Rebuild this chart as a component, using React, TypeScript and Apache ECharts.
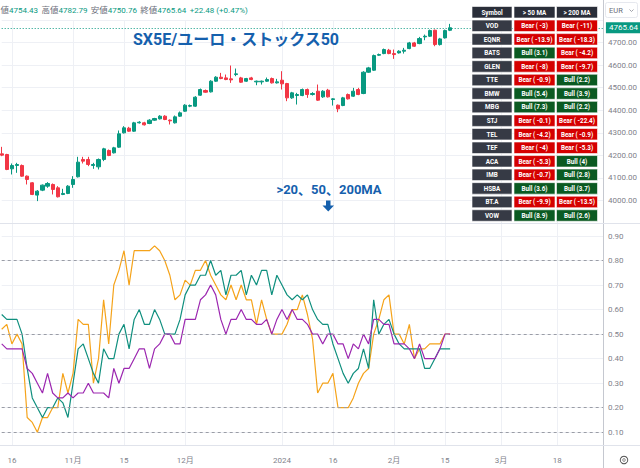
import React, { useEffect, useRef } from 'react';
import * as echarts from 'echarts';

// ---------- categories (trading days) ----------
const START_DATE = [2023, 9, 12]; // 2023-10-12
const HOLIDAYS = ['2023-12-25', '2023-12-26', '2024-01-01'];
const N_CATS = 119;

const TICK_LABELS: [string, string][] = [
  ['2023-10-16', '16'],
  ['2023-11-01', '11月'],
  ['2023-11-15', '15'],
  ['2023-12-01', '12月'],
  ['2024-01-02', '2024'],
  ['2024-01-16', '16'],
  ['2024-02-01', '2月'],
  ['2024-02-15', '15'],
  ['2024-03-01', '3月'],
  ['2024-03-18', '18'],
];

// ---------- candles [open, close, low, high] ----------
const candles: number[][] = [
  [4206.7, 4200.8, 4196.3, 4237.7],
  [4203.7, 4137.3, 4134.3, 4206.7],
  [4140.2, 4155.0, 4115.1, 4163.9],
  [4155.0, 4159.4, 4122.5, 4166.8],
  [4155.0, 4107.7, 4104.8, 4159.4],
  [4107.7, 4093.0, 4070.8, 4110.7],
  [4078.2, 4026.5, 4023.6, 4081.2],
  [4023.6, 4041.3, 3997.0, 4045.7],
  [4045.7, 4067.8, 4041.3, 4070.8],
  [4063.4, 4075.2, 4056.0, 4081.2],
  [4070.8, 4048.6, 4026.5, 4075.2],
  [4056.0, 4016.2, 4013.2, 4063.4],
  [4026.5, 4031.0, 4023.6, 4051.6],
  [4031.0, 4063.4, 4028.0, 4067.8],
  [4070.8, 4093.0, 4056.0, 4107.7],
  [4104.8, 4169.8, 4101.8, 4193.4],
  [4181.6, 4174.2, 4163.9, 4193.4],
  [4181.6, 4159.4, 4152.0, 4193.4],
  [4155.0, 4159.4, 4140.2, 4166.8],
  [4149.1, 4181.6, 4137.3, 4186.0],
  [4181.6, 4228.8, 4174.2, 4233.3],
  [4221.5, 4199.3, 4196.3, 4225.9],
  [4211.1, 4233.3, 4208.2, 4237.7],
  [4236.2, 4295.3, 4233.3, 4310.1],
  [4299.7, 4321.9, 4296.8, 4329.3],
  [4320.4, 4307.1, 4304.2, 4326.3],
  [4307.1, 4344.1, 4304.2, 4348.5],
  [4344.1, 4347.0, 4341.1, 4351.4],
  [4344.1, 4335.2, 4332.2, 4348.5],
  [4341.1, 4355.9, 4338.2, 4360.3],
  [4355.9, 4363.3, 4352.9, 4366.2],
  [4361.8, 4373.6, 4358.8, 4378.0],
  [4373.6, 4358.8, 4355.9, 4378.0],
  [4355.9, 4352.9, 4336.7, 4358.8],
  [4344.1, 4370.6, 4341.1, 4376.6],
  [4373.6, 4388.4, 4370.6, 4394.3],
  [4395.7, 4422.3, 4392.8, 4426.8],
  [4417.9, 4420.9, 4413.5, 4425.3],
  [4417.9, 4457.8, 4415.0, 4462.2],
  [4466.6, 4491.8, 4463.7, 4496.2],
  [4487.3, 4479.9, 4477.0, 4491.8],
  [4481.4, 4528.7, 4478.5, 4533.1],
  [4528.7, 4546.4, 4525.7, 4550.8],
  [4546.4, 4540.5, 4537.5, 4565.6],
  [4543.4, 4536.0, 4533.1, 4558.2],
  [4539.0, 4534.6, 4521.3, 4598.1],
  [4558.2, 4561.2, 4550.8, 4584.8],
  [4543.4, 4524.2, 4521.3, 4547.9],
  [4528.7, 4540.5, 4525.7, 4543.4],
  [4543.4, 4536.0, 4533.1, 4547.9],
  [4525.7, 4528.7, 4510.9, 4531.6],
  [4525.7, 4528.7, 4513.9, 4531.6],
  [4528.7, 4536.0, 4525.7, 4544.9],
  [4540.5, 4521.3, 4518.3, 4544.9],
  [4521.3, 4525.7, 4518.3, 4539.0],
  [4533.1, 4516.9, 4491.8, 4573.0],
  [4518.3, 4454.8, 4440.1, 4521.3],
  [4454.8, 4477.0, 4450.4, 4481.4],
  [4465.2, 4469.6, 4425.3, 4477.0],
  [4465.1, 4491.7, 4462.2, 4496.2],
  [4491.7, 4469.6, 4454.8, 4496.2],
  [4469.6, 4474.0, 4465.1, 4479.9],
  [4484.3, 4444.5, 4441.5, 4513.9],
  [4459.2, 4484.3, 4454.8, 4488.8],
  [4488.8, 4459.2, 4456.3, 4494.7],
  [4447.4, 4450.4, 4420.8, 4453.3],
  [4422.3, 4406.1, 4391.3, 4425.3],
  [4420.8, 4454.8, 4417.9, 4459.2],
  [4469.6, 4450.4, 4447.4, 4474.0],
  [4462.2, 4484.3, 4459.2, 4499.1],
  [4491.7, 4469.6, 4466.6, 4499.1],
  [4474.0, 4568.5, 4471.1, 4573.0],
  [4568.5, 4587.7, 4565.6, 4592.2],
  [4577.4, 4642.4, 4574.4, 4646.8],
  [4643.9, 4646.8, 4640.9, 4651.2],
  [4651.2, 4669.0, 4648.3, 4673.4],
  [4666.0, 4651.2, 4648.3, 4671.9],
  [4651.2, 4646.8, 4627.6, 4669.0],
  [4654.2, 4661.6, 4651.2, 4666.0],
  [4661.6, 4666.0, 4651.2, 4676.4],
  [4673.4, 4698.5, 4670.4, 4702.9],
  [4698.5, 4683.7, 4680.8, 4702.9],
  [4695.6, 4717.7, 4692.6, 4725.1],
  [4725.1, 4728.1, 4710.3, 4735.4],
  [4728.1, 4753.2, 4725.1, 4757.6],
  [4754.6, 4691.1, 4683.7, 4757.6],
  [4691.1, 4716.2, 4686.7, 4720.7],
  [4720.7, 4753.2, 4717.7, 4757.6],
  [4754.43, 4765.64, 4750.76, 4782.79],
];

const LAST_CLOSE = 4765.64;
const HEADER = { open: '4754.43', high: '4782.79', low: '4750.76', close: '4765.64', chg: '+22.48 (+0.47%)' };

// ---------- breadth: share of stocks above MA ----------
const above20 = [
  0.52, 0.54, 0.46, 0.50, 0.46, 0.16, 0.14, 0.10, 0.16, 0.16,
  0.20, 0.20, 0.34, 0.26, 0.34, 0.56, 0.54, 0.54, 0.30, 0.40,
  0.64, 0.46, 0.70, 0.76, 0.84, 0.70, 0.84, 0.84, 0.84, 0.84,
  0.86, 0.84, 0.80, 0.74, 0.64, 0.66, 0.72, 0.70, 0.76, 0.76,
  0.80, 0.74, 0.70, 0.66, 0.64, 0.70, 0.64, 0.70, 0.64, 0.64,
  0.54, 0.64, 0.56, 0.50, 0.50, 0.50, 0.54, 0.60, 0.60, 0.66,
  0.58, 0.48, 0.26, 0.30, 0.30, 0.34, 0.20, 0.20, 0.20, 0.24,
  0.30, 0.34, 0.36, 0.50, 0.56, 0.64, 0.66, 0.50, 0.50, 0.46,
  0.54, 0.40, 0.44, 0.44, 0.46, 0.46, 0.46, 0.50, 0.50,
];
const above50 = [
  0.58, 0.56, 0.56, 0.56, 0.50, 0.36, 0.24, 0.20, 0.16, 0.20,
  0.20, 0.24, 0.22, 0.16, 0.30, 0.44, 0.46, 0.40, 0.34, 0.30,
  0.44, 0.40, 0.40, 0.50, 0.54, 0.44, 0.56, 0.60, 0.54, 0.54,
  0.60, 0.56, 0.50, 0.50, 0.50, 0.56, 0.66, 0.70, 0.70, 0.74,
  0.74, 0.80, 0.74, 0.76, 0.66, 0.74, 0.74, 0.76, 0.66, 0.74,
  0.70, 0.76, 0.76, 0.66, 0.74, 0.70, 0.66, 0.64, 0.66, 0.64,
  0.66, 0.60, 0.56, 0.54, 0.54, 0.46, 0.40, 0.34, 0.30, 0.34,
  0.36, 0.44, 0.36, 0.64, 0.50, 0.54, 0.56, 0.50, 0.46, 0.44,
  0.44, 0.44, 0.44, 0.36, 0.36, 0.40, 0.44, 0.44, 0.44,
];
const above200 = [
  0.46, 0.44, 0.44, 0.44, 0.44, 0.36, 0.34, 0.30, 0.26, 0.34,
  0.26, 0.24, 0.24, 0.26, 0.24, 0.26, 0.26, 0.30, 0.26, 0.26,
  0.26, 0.24, 0.36, 0.30, 0.36, 0.36, 0.40, 0.44, 0.44, 0.36,
  0.44, 0.46, 0.50, 0.50, 0.46, 0.46, 0.56, 0.56, 0.56, 0.64,
  0.66, 0.70, 0.66, 0.56, 0.50, 0.56, 0.56, 0.60, 0.56, 0.56,
  0.54, 0.54, 0.56, 0.50, 0.56, 0.60, 0.56, 0.60, 0.56, 0.56,
  0.54, 0.50, 0.50, 0.46, 0.50, 0.50, 0.46, 0.46, 0.40, 0.46,
  0.44, 0.50, 0.46, 0.56, 0.56, 0.54, 0.54, 0.46, 0.46, 0.46,
  0.44, 0.40, 0.46, 0.40, 0.40, 0.40, 0.44, 0.50, 0.50,
];
const LEVELS = [0.8, 0.5, 0.2, 0.1];

// ---------- table ----------
const tableSymbols = ['VOD', 'EQNR', 'BATS', 'GLEN', 'TTE', 'BMW', 'MBG', 'STJ', 'TEL', 'TEF', 'ACA', 'IMB', 'HSBA', 'BT.A', 'VOW'];
const vs50 = [-3, -13.9, 3.1, -8, -0.9, 5.4, 7.3, -0.1, -4.2, -4, -5.3, -0.7, 3.6, -9.9, 8.9];
const vs200 = [-11, -18.3, -4.2, -9.7, 2.2, 3.9, 2.2, -22.4, -0.9, -5.3, 4, 2.8, 3.7, -13.5, 2.6];
const tableHeader = ['Symbol', '> 50 MA', '> 200 MA'];

const UP = '#089981';
const DOWN = '#F23645';
const FONT = "Roboto, 'Noto Sans CJK JP', sans-serif";

function buildDates(): string[] {
  const out: string[] = [];
  let t = Date.UTC(START_DATE[0], START_DATE[1], START_DATE[2]);
  while (out.length < N_CATS) {
    const d = new Date(t);
    const wd = d.getUTCDay();
    const s = d.toISOString().slice(0, 10);
    if (wd !== 0 && wd !== 6 && HOLIDAYS.indexOf(s) < 0) out.push(s);
    t += 86400000;
  }
  return out;
}

function cellText(v: number) {
  return v > 0 ? `Bull (${v})` : `Bear ( ${v})`;
}

function buildTable(): any[] {
  const xs = [472, 514, 556.5];
  const ws = [40, 41, 41];
  const top0 = 6.5;
  const pitch = 13.55;
  const h = 11.5;
  const els: any[] = [];
  const cell = (col: number, row: number, fill: string, text: string) => {
    const y = top0 + row * pitch;
    els.push({
      type: 'rect',
      shape: { x: xs[col], y, width: ws[col], height: h },
      style: { fill, stroke: '#ffffff', lineWidth: 0.6 },
      z: 100,
    });
    els.push({
      type: 'text',
      x: xs[col] + ws[col] / 2,
      y: y + h / 2 + 0.3,
      style: {
        text,
        fill: '#ffffff',
        font: `bold 6.3px ${FONT}`,
        textAlign: 'center',
        textVerticalAlign: 'middle',
      },
      z: 101,
    });
  };
  tableHeader.forEach((t, c) => cell(c, 0, '#2a2e39', t));
  tableSymbols.forEach((s, i) => {
    cell(0, i + 1, '#363a45', s);
    cell(1, i + 1, vs50[i] > 0 ? '#0b5a22' : '#d50000', cellText(vs50[i]));
    cell(2, i + 1, vs200[i] > 0 ? '#0b5a22' : '#d50000', cellText(vs200[i]));
  });
  return els;
}

function buildOption() {
  const dates = buildDates();
  const tickMap: Record<string, string> = {};
  TICK_LABELS.forEach(([d, l]) => (tickMap[d] = l));
  const isTick = (_i: number, v: string) => tickMap[v] !== undefined;
  const gridColor = '#eef0f5';

  const splitX = { show: true, interval: isTick, lineStyle: { color: gridColor, width: 1 } };

  return {
    animation: false,
    backgroundColor: '#ffffff',
    grid: [
      { left: 1.7, right: 37, top: 20, height: 203 },
      { left: 1.7, right: 37, top: 223, height: 222 },
    ],
    xAxis: [
      {
        type: 'category', gridIndex: 0, data: dates, boundaryGap: false,
        axisLine: { show: false }, axisTick: { show: false }, axisLabel: { show: false },
        splitLine: splitX,
      },
      {
        type: 'category', gridIndex: 1, data: dates, boundaryGap: false,
        axisLine: { show: true, lineStyle: { color: '#e0e3eb' } },
        axisTick: { show: false },
        axisLabel: {
          interval: isTick,
          formatter: (v: string) => tickMap[v] || '',
          color: '#7f828b', fontSize: 8, margin: 11, fontFamily: FONT,
        },
        splitLine: splitX,
      },
    ],
    yAxis: [
      {
        type: 'value', gridIndex: 0, position: 'right', min: 3900, max: 4800, interval: 100,
        axisLine: { show: false }, axisTick: { show: false },
        axisLabel: {
          formatter: (v: number) => v.toFixed(2), color: '#7f828b', fontSize: 8, margin: 5,
          showMinLabel: false, showMaxLabel: false, fontFamily: FONT,
        },
        splitLine: { lineStyle: { color: gridColor } },
      },
      {
        type: 'value', gridIndex: 1, position: 'right', min: 0.048, max: 0.953, splitNumber: 9,
        axisLine: { show: false }, axisTick: { show: false },
        axisLabel: {
          formatter: (v: number) => v.toFixed(2), color: '#7f828b', fontSize: 8, margin: 5,
          showMinLabel: false, showMaxLabel: false, fontFamily: FONT,
        },
        splitLine: { lineStyle: { color: gridColor } },
      },
    ],
    series: [
      {
        type: 'candlestick', xAxisIndex: 0, yAxisIndex: 0, data: candles, barWidth: '72%', clip: false,
        itemStyle: { color: UP, color0: DOWN, borderColor: UP, borderColor0: DOWN, borderWidth: 1 },
        markLine: {
          silent: true, symbol: 'none', animation: false,
          lineStyle: { color: UP, type: [1, 2], width: 1 },
          label: {
            show: true, position: 'end', formatter: LAST_CLOSE.toFixed(2), color: '#ffffff',
            backgroundColor: UP, padding: [2, 3, 1, 3], fontSize: 8, distance: 3, fontFamily: FONT,
          },
          data: [{ yAxis: LAST_CLOSE }],
        },
      },
      {
        type: 'line', xAxisIndex: 1, yAxisIndex: 1, data: above20, showSymbol: false, symbol: 'none',
        lineStyle: { color: '#f5a31a', width: 1.2 }, itemStyle: { color: '#f5a31a' },
        markLine: {
          silent: true, symbol: 'none', animation: false, label: { show: false },
          lineStyle: { color: '#9a9da6', type: [3, 3], width: 1 },
          data: LEVELS.map((v) => ({ yAxis: v })),
        },
      },
      {
        type: 'line', xAxisIndex: 1, yAxisIndex: 1, data: above50, showSymbol: false, symbol: 'none',
        lineStyle: { color: '#0f8f7e', width: 1.2 }, itemStyle: { color: '#0f8f7e' },
      },
      {
        type: 'line', xAxisIndex: 1, yAxisIndex: 1, data: above200, showSymbol: false, symbol: 'none',
        lineStyle: { color: '#9c27b0', width: 1.2 }, itemStyle: { color: '#9c27b0' },
      },
    ],
    graphic: [
      // separators
      { type: 'line', shape: { x1: 603.5, y1: 0, x2: 603.5, y2: 468 }, style: { stroke: '#c5c8d0', lineWidth: 1 }, z: 50 },
      { type: 'line', shape: { x1: 0, y1: 223.5, x2: 640, y2: 223.5 }, style: { stroke: '#e0e3eb', lineWidth: 1 }, z: 50 },
      { type: 'line', shape: { x1: 0, y1: 445.5, x2: 640, y2: 445.5 }, style: { stroke: '#e0e3eb', lineWidth: 1 }, z: 50 },
      // header line (the reference shows it starting at "値", its first glyph cut by the left edge)
      {
        type: 'text', x: 0.5, y: 10,
        style: {
          text: `{l|値}{v|${HEADER.open}} {l|高値}{v|${HEADER.high}} {l|安値}{v|${HEADER.low}} {l|終値}{v|${HEADER.close}} {v|${HEADER.chg}}`,
          textVerticalAlign: 'middle',
          rich: {
            l: { fontSize: 8.5, fill: '#6a6d78', fontFamily: FONT },
            v: { fontSize: 8, fill: UP, fontFamily: FONT },
          },
        },
        z: 60,
      },
      // title
      {
        type: 'text', x: 236, y: 39,
        style: {
          text: 'SX5E/ユーロ・ストックス50', fill: '#1560ad', font: `bold 16px ${FONT}`,
          textAlign: 'center', textVerticalAlign: 'middle',
        },
        z: 60,
      },
      // annotation
      {
        type: 'text', x: 329, y: 189,
        style: {
          text: '>20、50、200MA', fill: '#1560ad', font: `bold 13px ${FONT}`,
          textAlign: 'center', textVerticalAlign: 'middle',
        },
        z: 60,
      },
      {
        type: 'polygon',
        shape: { points: [[326, 200.5], [330.5, 200.5], [330.5, 205.5], [334, 205.5], [328.25, 211.5], [322.5, 205.5], [326, 205.5]] },
        style: { fill: '#1560ad' },
        z: 60,
      },
      // EUR box
      { type: 'rect', shape: { x: 605.5, y: 2.5, width: 32, height: 15, r: 2 }, style: { fill: 'none', stroke: '#e6e8ee', lineWidth: 1 }, z: 60 },
      { type: 'text', x: 609, y: 10.5, style: { text: 'EUR', fill: '#6a6d78', font: `7.5px ${FONT}`, textVerticalAlign: 'middle' }, z: 61 },
      { type: 'polyline', shape: { points: [[629.5, 9.5], [631.5, 11.5], [633.5, 9.5]] }, style: { stroke: '#8a8d96', lineWidth: 0.8, fill: 'none' }, z: 61 },
      // gear icon
      { type: 'ring', shape: { cx: 624, cy: 460, r: 4.2, r0: 3.3 }, style: { fill: '#555' }, z: 61 },
      { type: 'circle', shape: { cx: 624, cy: 460, r: 1.3 }, style: { fill: 'none', stroke: '#555', lineWidth: 0.8 }, z: 61 },
      ...buildTable(),
    ],
  };
}

export default function App() {
  const ref = useRef<HTMLDivElement>(null);
  useEffect(() => {
    if (!ref.current) return;
    const chart = echarts.init(ref.current, null, { renderer: 'svg' });
    chart.setOption(buildOption() as any);
    return () => chart.dispose();
  }, []);
  return (
    <div
      ref={ref}
      style={{ position: 'absolute', left: 0, top: 0, width: 640, height: 468, background: '#ffffff' }}
    />
  );
}
